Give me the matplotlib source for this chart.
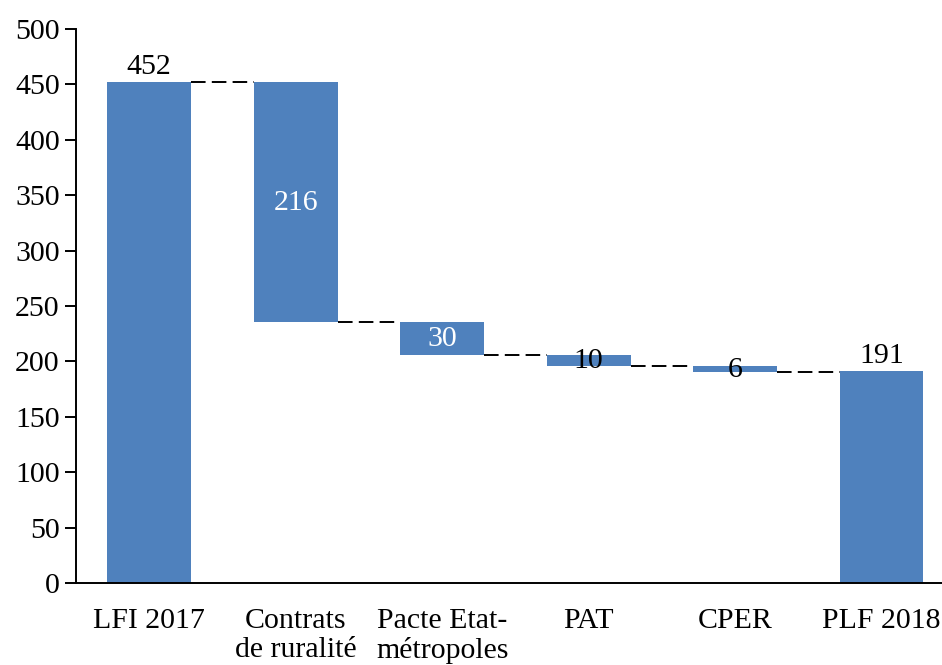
import matplotlib
matplotlib.use("Agg")
import matplotlib.pyplot as plt

# data
categories = ["LFI 2017", "Contrats\nde ruralité", "Pacte Etat-\nmétropoles", "PAT", "CPER", "PLF 2018"]
start_total = 452
changes = [216, 30, 10, 6]      # decreases
end_total = 191
label_colors = ["black", "white", "white", "black", "black", "black"]

bar_color = "#4F81BD"
plt.rcParams["font.family"] = ["Liberation Serif", "DejaVu Serif"]
plt.rcParams["font.size"] = 21.5

fig = plt.figure(figsize=(9.42, 6.65), dpi=100)
ax = fig.add_axes([0.081, 0.1233, 0.919, 0.8331])

width = 0.573
x = list(range(len(categories)))

# bottoms/tops of each bar
bottoms, tops = [0], [start_total]
level = start_total
for c in changes:
    bottoms.append(level - c)
    tops.append(level)
    level -= c
bottoms.append(0)
tops.append(end_total)

heights = [t - b for t, b in zip(tops, bottoms)]
ax.bar(x, heights, bottom=bottoms, width=width, color=bar_color, zorder=2)

# connector lines at the running level
levels = [start_total]
for c in changes:
    levels.append(levels[-1] - c)
for i, lv in enumerate(levels):
    ax.plot([x[i] + width / 2, x[i + 1] - width / 2], [lv, lv],
            ls=(0, (7.5, 3.2)), color="black", lw=1.4, zorder=1)

# labels
values = [start_total] + changes + [end_total]
for i, v in enumerate(values):
    if i == 0 or i == len(values) - 1:
        ax.text(x[i], tops[i] + 2, str(v), ha="center", va="bottom", color="black")
    else:
        ax.text(x[i], (tops[i] + bottoms[i]) / 2 - 1, str(v), ha="center", va="center",
                color=label_colors[i])

ax.set_xlim(-0.498, 5.413)
ax.set_ylim(0, 500)
ax.set_yticks(range(0, 501, 50))
ax.set_xticks(x)
ax.set_xticklabels(categories, linespacing=1.15)
ax.tick_params(axis="x", length=0, pad=18)
ax.tick_params(axis="y", length=8, width=1.4, direction="out", pad=4)
for s in ["top", "right"]:
    ax.spines[s].set_visible(False)
ax.spines["left"].set_linewidth(1.4)
ax.spines["bottom"].set_linewidth(1.4)

plt.savefig("out.png", dpi=100)
